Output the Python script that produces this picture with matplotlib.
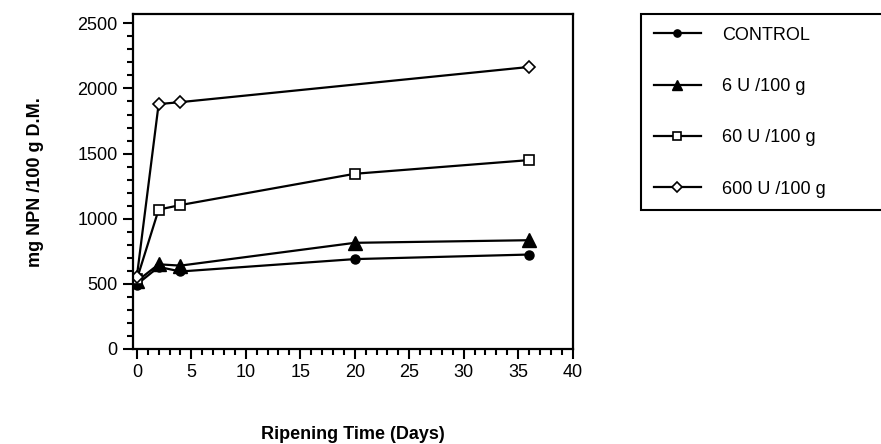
import numpy as np
import matplotlib.pyplot as plt
from matplotlib.ticker import MultipleLocator

plt.rcParams['font.family'] = ['Liberation Sans', 'DejaVu Sans']

days = [0, 2, 4, 20, 36]
control = [495, 630, 595, 690, 725]
u6 = [520, 650, 640, 815, 835]
u60 = [535, 1070, 1105, 1345, 1450]
days_600 = [0, 2, 4, 36]
u600 = [555, 1880, 1895, 2165]
labels = ["CONTROL", "6 U /100 g", "60 U /100 g", "600 U /100 g"]

fig = plt.figure(figsize=(8.81, 4.44), dpi=100)
ax = fig.add_axes([0.151, 0.214, 0.499, 0.754])

lw = 1.6
ax.plot(days, control, color="k", lw=lw, marker="o", ms=6.5, mfc="k", label=labels[0])
ax.plot(days, u6, color="k", lw=lw, marker="^", ms=9.5, mfc="k", label=labels[1])
ax.plot(days, u60, color="k", lw=lw, marker="s", ms=7, mfc="white", mew=1.2, label=labels[2])
ax.plot(days_600, u600, color="k", lw=lw, marker="D", ms=6.5, mfc="white", mew=1.2, label=labels[3])

ax.set_xlim(-0.35, 40)
ax.set_ylim(0, 2570)
ax.xaxis.set_major_locator(MultipleLocator(5))
ax.xaxis.set_minor_locator(MultipleLocator(1))
ax.yaxis.set_major_locator(MultipleLocator(500))
ax.yaxis.set_minor_locator(MultipleLocator(100))
ax.tick_params(which="major", direction="out", length=7, width=1.5, labelsize=13, pad=4)
ax.tick_params(which="minor", direction="out", length=4, width=1.5)
for s in ax.spines.values():
    s.set_linewidth(1.6)

ax.set_xlabel("Ripening Time (Days)", fontsize=13, fontweight="bold", labelpad=32)
ax.set_ylabel("mg NPN /100 g D.M.", fontsize=13, fontweight="bold", labelpad=24)

leg = fig.legend(loc="upper left", bbox_to_anchor=(641 / 881, 1 - 210 / 444, 0.3, 196 / 444),
                 mode="expand", borderaxespad=0, numpoints=1, handlelength=2.6,
                 handletextpad=1.2, markerscale=0.8, fontsize=13,
                 labelspacing=1.9, borderpad=0.7, fancybox=False, edgecolor="k",
                 framealpha=1)
leg.get_frame().set_linewidth(1.5)

fig.savefig("out.png", dpi=100)
